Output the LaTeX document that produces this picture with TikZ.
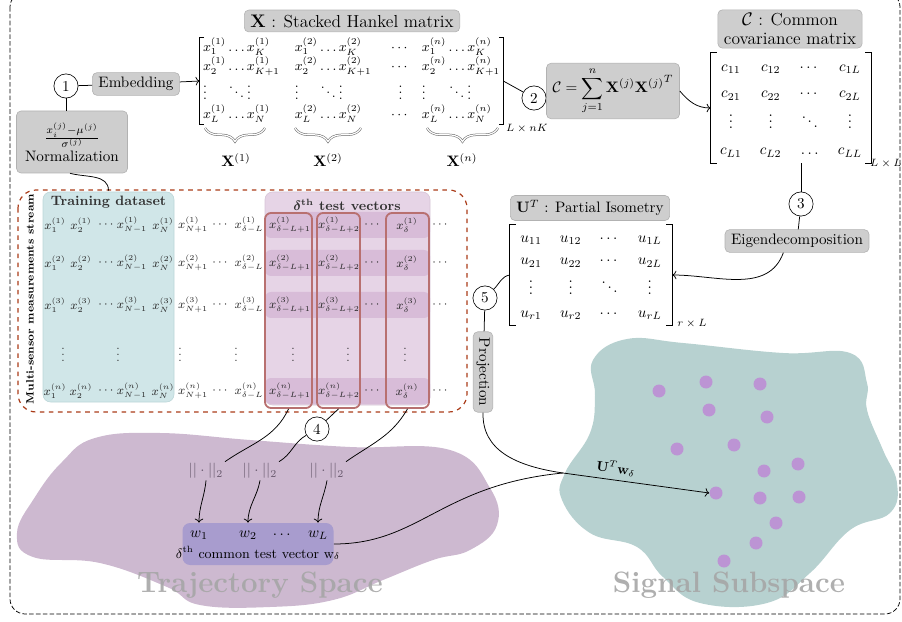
\documentclass[tikz,border=0pt]{standalone}
\usepackage{amsmath,amssymb,bm}
\usepackage{tikz}
\usetikzlibrary{arrows.meta,decorations.pathreplacing,positioning}

\definecolor{boxgray}{RGB}{206,206,206}
\definecolor{boxedge}{RGB}{178,178,178}
\definecolor{trainc}{RGB}{208,230,232}
\definecolor{trainedge}{RGB}{188,214,216}
\definecolor{testc}{RGB}{230,212,230}
\definecolor{testedge}{RGB}{214,196,214}
\definecolor{bandc}{RGB}{216,188,216}
\definecolor{colred}{RGB}{184,112,112}
\definecolor{dashred}{RGB}{170,60,25}
\definecolor{trajc}{RGB}{205,185,208}
\definecolor{sigc}{RGB}{183,209,208}
\definecolor{wc}{RGB}{168,156,206}
\definecolor{dotc}{RGB}{188,148,212}
\definecolor{normtxt}{RGB}{105,90,110}

\newcommand{\pxu}{0.661pt}
\newcommand{\titlesize}{\fontsize{11.5}{13}\selectfont}

\begin{document}
\begin{tikzpicture}[x=0.661pt,y=0.661pt,
    graybox/.style={draw=boxedge, fill=boxgray, rounded corners=3pt, inner xsep=4pt, inner ysep=3pt},
    stepnum/.style={circle, draw, fill=white, minimum size=16pt, inner sep=0pt},
    dat/.style={font=\fontsize{7.6}{9}\selectfont, text=black!85, inner sep=0pt},
    conn/.style={draw, line width=0.5pt},
    brk/.style={draw, line width=0.7pt},
    hbrace/.style={decorate, decoration={brace, mirror, amplitude=9pt}, draw=black!60, double=white, double distance=0.8pt, line width=0.35pt},
    sigdot/.style={circle, fill=dotc, minimum size=13*\pxu, inner sep=0pt},
    colbox/.style={draw=colred, line width=1.2pt, rounded corners=4pt, minimum width=#1, minimum height=195*\pxu},
    band/.style={fill=bandc, rounded corners=4pt},
    normn/.style={text=normtxt, inner sep=1pt},
    spacetext/.style={text=black!35, opacity=0.9, font=\fontsize{19.5}{22}\selectfont\bfseries}]

    \useasboundingbox (0,0) rectangle (902,-622);
    \clip (0,0) rectangle (902,-622);

    %frame
    \draw[dash pattern=on 3pt off 1.5pt, rounded corners=10pt, line width=0.5pt] (10,8) rectangle (900,-614);

    %spaces
    \fill[trajc] plot[smooth cycle, tension=0.7] coordinates {(17,-533) (35,-497) (62,-462) (95,-438) (160,-433) (250,-440) (350,-447) (450,-450) (490,-488) (497,-525) (470,-550) (433,-560) (383,-580) (333,-600) (270,-607) (200,-605) (167,-587) (100,-563) (33,-557)};
    \fill[sigc] plot[smooth cycle, tension=0.7] coordinates {(593,-360) (627,-339) (683,-343) (783,-353) (850,-353) (867,-383) (867,-410) (883,-450) (897,-483) (890,-513) (850,-530) (810,-573) (767,-603) (700,-603) (663,-577) (637,-547) (590,-533) (562,-500) (565,-473) (590,-433) (595,-395)};
    \node[spacetext] (trajlbl) at (260,-585) {Trajectory Space};
    \node[spacetext] (siglbl) at (729,-585) {Signal Subspace};

    %embedding and normalization
    \node[stepnum] (s1) at (66,-86) {1};
    \node[graybox] (embed) at (136,-84) {Embedding};
    \node[graybox, align=center, minimum width=111*\pxu, minimum height=62*\pxu] (norm) at (72,-142) {$\frac{x_i^{(j)}-\mu^{(j)}}{\sigma^{(j)}}$\\[1pt]Normalization};
    \draw[conn] (s1) -- (embed);
    \draw[conn] (s1.south) -- (s1.south |- norm.north);

    %hankel matrix
    \node[graybox, font=\titlesize] (xtitle) at (352,-21) {$\mathbf{X}$ : Stacked Hankel matrix};
    \node[font=\small, inner sep=0pt, minimum width=303*\pxu, minimum height=86*\pxu] (hankel) at (351.5,-81) {$\renewcommand{\arraystretch}{1.15}\begin{array}{@{}l@{\,}c@{\,}l@{\hspace{10pt}}l@{\,}c@{\,}l@{\hspace{13pt}}c@{\hspace{8pt}}l@{\,}c@{\,}l@{}}
        x_1^{(1)}&\ldots&x_K^{(1)}&x_1^{(2)}&\ldots&x_K^{(2)}&\cdots&x_1^{(n)}&\ldots&x_K^{(n)}\\
        x_2^{(1)}&\ldots&x_{K+1}^{(1)}&x_2^{(2)}&\ldots&x_{K+1}^{(2)}&\cdots&x_2^{(n)}&\ldots&x_{K+1}^{(n)}\\
        \vdots&\ddots&\vdots&\vdots&\ddots&\vdots&\vdots&\vdots&\ddots&\vdots\\
        x_L^{(1)}&\ldots&x_N^{(1)}&x_L^{(2)}&\ldots&x_N^{(2)}&\cdots&x_L^{(n)}&\ldots&x_N^{(n)}
    \end{array}$};
    \draw[brk] ([xshift=3pt]hankel.north west) -| (hankel.south west) -- ++(3pt,0);
    \draw[brk] ([xshift=-3pt]hankel.north east) -| (hankel.south east) -- ++(-3pt,0);
    \node[font=\scriptsize] (hsub) at (527,-129) {$L\times nK$};
    \draw[conn,->] (embed) -- (hankel.west);
    \draw[hbrace] (205,-128) -- (265,-128);
    \draw[hbrace] (295,-128) -- (361,-128);
    \draw[hbrace] (427,-128) -- (498,-128);
    \node (xb1) at (236,-160) {$\mathbf{X}^{(1)}$};
    \node (xb2) at (328,-160) {$\mathbf{X}^{(2)}$};
    \node (xbn) at (462,-160) {$\mathbf{X}^{(n)}$};

    %covariance
    \node[stepnum] (s2) at (534,-98) {2};
    \node[graybox] (csum) at (613,-91) {$\displaystyle\mathcal{C}=\sum_{j=1}^{n}\mathbf{X}^{(j)}{\mathbf{X}^{(j)}}^{T}$};
    \node[graybox, font=\titlesize, align=center, inner ysep=2pt] (ctitle) at (790,-29) {$\mathcal{C}$ : Common\\covariance matrix};
    \node[inner sep=0pt, minimum width=156*\pxu, minimum height=107*\pxu] (cov) at (791,-108) {$\setlength{\arraycolsep}{6pt}\renewcommand{\arraystretch}{1.45}\begin{array}{cccc}
        c_{11}&c_{12}&\cdots&c_{1L}\\
        c_{21}&c_{22}&\cdots&c_{2L}\\
        \vdots&\vdots&\ddots&\vdots\\
        c_{L1}&c_{L2}&\ldots&c_{LL}
    \end{array}$};
    \draw[brk] ([xshift=4pt]cov.north west) -| (cov.south west) -- ++(4pt,0);
    \draw[brk] ([xshift=-4pt]cov.north east) -| (cov.south east) -- ++(-4pt,0);
    \node[font=\scriptsize] (csub) at (886,-164) {$L\times L$};
    \draw[conn] (hankel.east) -- (s2);
    \draw[conn] (s2) -- (csum);
    \draw[conn,->] (csum.east) to[out=-50,in=180] (cov.west);

    %eigendecomposition
    \node[stepnum] (s3) at (801,-204) {3};
    \node[graybox] (eigen) at (797,-241) {Eigendecomposition};
    \node[graybox] (utitle) at (590,-208) {$\mathbf{U}^T$ : Partial Isometry};
    \node[inner sep=0pt, minimum width=162*\pxu, minimum height=100*\pxu] (umat) at (591,-275) {$\setlength{\arraycolsep}{6pt}\renewcommand{\arraystretch}{1.25}\begin{array}{cccc}
        u_{11}&u_{12}&\cdots&u_{1L}\\
        u_{21}&u_{22}&\cdots&u_{2L}\\
        \vdots&\vdots&\ddots&\vdots\\
        u_{r1}&u_{r2}&\cdots&u_{rL}
    \end{array}$};
    \draw[brk] ([xshift=4pt]umat.north west) -| (umat.south west) -- ++(4pt,0);
    \draw[brk] ([xshift=-4pt]umat.north east) -| (umat.south east) -- ++(-4pt,0);
    \node[font=\scriptsize] (usub) at (692,-324) {$r\times L$};
    \draw[conn] (s3 |- cov.south) -- (s3);
    \draw[conn] (s3) -- (eigen);
    \draw[conn,->] ([xshift=-9pt]eigen.south) to[out=-110,in=0] (umat.east);

    %data stream
    \draw[dashed, draw=dashred, line width=0.8pt, rounded corners=12pt] (18,-190) rectangle (467,-412);
    \node[rotate=90, font=\scriptsize\bfseries] (stream) at (30,-299) {Multi-sensor measurements stream};
    \node[draw=trainedge, fill=trainc, rounded corners=5pt, minimum width=131*\pxu, minimum height=210*\pxu] (train) at (108.5,-297) {};
    \node[font=\small\bfseries, text=black!80] (traint) at (108.5,-202) {Training dataset};
    \node[draw=testedge, fill=testc, rounded corners=5pt, minimum width=165*\pxu, minimum height=213*\pxu] (testb) at (347.5,-298.5) {};
    \node[font=\small\bfseries, text=black!80] (testt) at (347,-205) {$\bm{\delta}^{\textbf{th}}$ test vectors};
    \foreach \y in {225,263,305,391}
        \fill[band] (265,-\y+13) rectangle (430,-\y-13);
    \foreach \s/\y in {1/225,2/263,3/305,n/391}{
        \node[dat] (a\s) at (55,-\y) {$x_1^{(\s)}$};
        \node[dat] (b\s) at (81,-\y) {$x_2^{(\s)}$};
        \node[dat] (c\s) at (107,-\y) {$\cdots$};
        \node[dat] (d\s) at (132,-\y) {$x_{N-1}^{(\s)}$};
        \node[dat] (e\s) at (163,-\y) {$x_N^{(\s)}$};
        \node[dat] (f\s) at (193,-\y) {$x_{N+1}^{(\s)}$};
        \node[dat] (g\s) at (221,-\y) {$\cdots$};
        \node[dat] (h\s) at (249,-\y) {$x_{\delta-L}^{(\s)}$};
        \node[dat] (i\s) at (290,-\y) {$x_{\delta-L+1}^{(\s)}$};
        \node[dat] (j\s) at (339,-\y) {$x_{\delta-L+2}^{(\s)}$};
        \node[dat] (k\s) at (373,-\y) {$\cdots$};
        \node[dat] (l\s) at (407,-\y) {$x_{\delta}^{(\s)}$};
        \node[dat] (m\s) at (441,-\y) {$\cdots$};
    }
    \foreach \x [count=\i] in {63,118,180,236,293,348,405}
        \node[dat] (v\i) at (\x,-350) {$\vdots$};
    \node[colbox=47*\pxu] (col1) at (288.5,-310.5) {};
    \node[colbox=43*\pxu] (col2) at (338.5,-310.5) {};
    \node[colbox=43*\pxu] (col3) at (407.5,-310.5) {};
    \draw[conn] (norm.south) ++(-2,0) to[out=-15,in=90] (traint.north);

    %norms
    \node[stepnum] (s4) at (317,-429) {4};
    \node[normn] (n1) at (206,-471) {$||\cdot||_2$};
    \node[normn] (n2) at (260,-471) {$||\cdot||_2$};
    \node[normn] (n3) at (327,-471) {$||\cdot||_2$};
    \draw[conn] (col1.south) to[out=-115,in=35] (n1.north east);
    \draw[conn] (col2.south) -- (s4);
    \draw[conn] (s4) to[out=-150,in=30] (n2.north east);
    \draw[conn] (col3.south) to[out=-120,in=35] (n3.north east);

    %common test vector
    \node[fill=wc, rounded corners=5pt, minimum width=151*\pxu, minimum height=42*\pxu] (wbox) at (258,-544) {};
    \node (w1) at (199,-535) {$w_1$};
    \node (w2) at (248,-535) {$w_2$};
    \node (wd) at (283,-535) {$\cdots$};
    \node (wL) at (318,-535) {$w_L$};
    \node[font=\small] (wcap) at (258,-553) {$\delta^{\text{th}}$ common test vector w$_\delta$};
    \draw[conn,->] (n1.south) to[out=-95,in=90] (w1 |- wbox.north);
    \draw[conn,->] (n2.south) to[out=-100,in=90] (w2 |- wbox.north);
    \draw[conn,->] (n3.south) to[out=-100,in=90] (wL |- wbox.north);

    %projection
    \node[stepnum] (s5) at (485,-298) {5};
    \node[graybox, inner xsep=2pt, inner ysep=4pt] (proj) at (483,-372) {\rotatebox{-90}{Projection}};
    \draw[conn] (s5.north east) to[out=45,in=190] (umat.west);
    \draw[conn] (s5) -- (proj);

    %signal points
    \foreach \x/\y [count=\i] in {659/391,706/382,760/384,709/410,767/417,677/449,734/445,798/464,764/471,716/493,760/498,799/497,776/523,756/543,724/561}
        \node[sigdot] (d\i) at (\x,-\y) {};
    \coordinate (join) at (563,-473);
    \draw[conn,->] (proj.south) .. controls (482,-450) and (515,-466) .. (join) -- node[sloped, above, pos=0.35, font=\small] (lblp) {$\mathbf{U}^T\mathbf{w}_\delta$} (d10.west);
    \draw[conn] (wbox.east) .. controls (420,-544) and (440,-485) .. (join);

\end{tikzpicture}
\end{document}
